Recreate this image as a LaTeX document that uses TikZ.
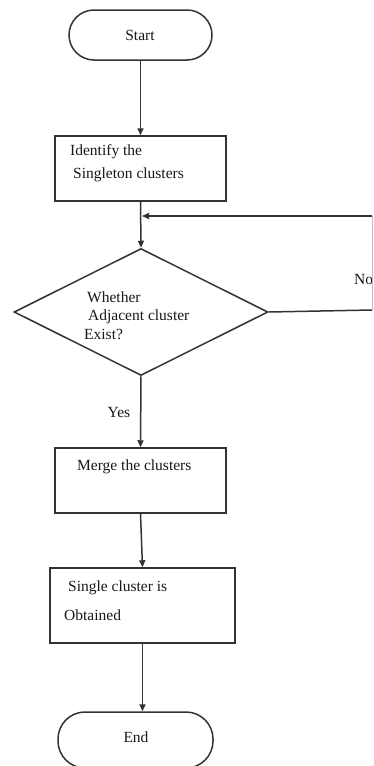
\documentclass[tikz,border=0pt]{standalone}
\usepackage{fontspec}
\setmainfont{Liberation Serif}
\usetikzlibrary{shapes.geometric,arrows.meta}
\begin{document}
\begin{tikzpicture}[x=1pt,y=1pt,
  line/.style={draw=black!80,line width=1.5pt},
  arr/.style={line,-{Triangle[width=6pt,length=7pt]}},
  term/.style={line,rectangle,rounded corners=25pt,inner sep=0pt,fill=white},
  procbox/.style={line,rectangle,inner sep=0pt,fill=white},
  decision/.style={line,diamond,inner sep=0pt,aspect=2},
  txt/.style={inner sep=0pt,anchor=west,text=black!90,font=\fontsize{15.5}{18}\selectfont}]
\useasboundingbox (0,0) rectangle (374,-766);
\fill[white] (0,0) rectangle (374,-766);
% shapes
\node[term,minimum width=143pt,minimum height=50pt] (start) at (140.5,-35) {};
\node[procbox,minimum width=171pt,minimum height=65pt] (ident) at (140.5,-168.5) {};
\node[decision,minimum width=254pt,minimum height=127pt] (dec) at (141,-312) {};
\node[procbox,minimum width=171pt,minimum height=65pt] (merge) at (140.5,-480.5) {};
\node[procbox,minimum width=185pt,minimum height=75pt] (single) at (142.5,-605.5) {};
\node[term,minimum width=155pt,minimum height=56pt,rounded corners=27pt] (endn) at (135.5,-740) {};
% texts
\node[txt,anchor=center] (tstart) at (140,-35) {Start};
\node[txt] (t1a) at (70,-152) {Identify the};
\node[txt] (t1b) at (73,-175) {Singleton clusters};
\node[txt] (t2a) at (87,-297) {Whether};
\node[txt] (t2b) at (88,-317) {Adjacent cluster};
\node[txt] (t2c) at (84,-334) {Exist?};
\node[txt] (t3) at (77,-467) {Merge the clusters};
\node[txt] (t4a) at (68,-588) {Single cluster is};
\node[txt] (t4b) at (64,-615) {Obtained};
\node[txt,anchor=center] (tend) at (136,-737) {End};
\node[txt] (tno) at (354,-279) {No};
\node[txt,anchor=center] (tyes) at (119,-412) {Yes};
% connectors
\coordinate (noA) at (372,-310);
\coordinate (noB) at (372,-216);
\coordinate (join) at (142,-216);
\draw[arr] (start.south) -- (ident.north);
\draw[arr] (ident.south) -- (dec.north);
\draw[line] (dec.east) -- (noA);
\draw[draw=black!25,line width=1pt] (noA) -- (noB);
\draw[arr] (noB) -- (join);
\draw[arr] (dec.south) -- (merge.north);
\draw[arr] (merge.south) -- (single.north);
\draw[arr] (single.south) -- (single.south |- endn.north);
\end{tikzpicture}
\end{document}
